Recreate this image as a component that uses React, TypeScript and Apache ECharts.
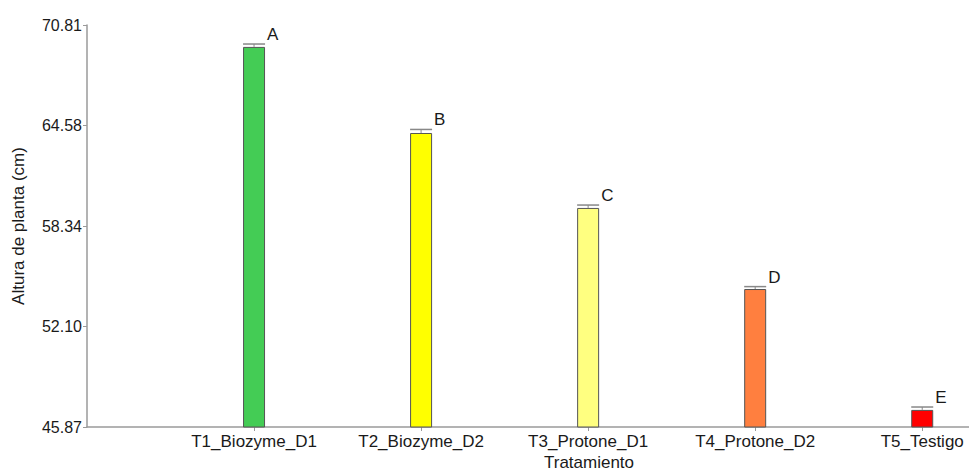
import React, { useEffect, useRef } from "react";
import * as echarts from "echarts";

const categories = ["T1_Biozyme_D1", "T2_Biozyme_D2", "T3_Protone_D1", "T4_Protone_D2", "T5_Testigo"];
const means = [69.45, 64.11, 59.46, 54.43, 46.93];
const errors = [0.18, 0.22, 0.18, 0.15, 0.18];
const letters = ["A", "B", "C", "D", "E"];
const colors = ["#44cc55", "#ffff00", "#ffff80", "#ff7f3f", "#ff0000"];
const yTickValues = [45.87, 52.105, 58.34, 64.575, 70.81];
const yTickLabels = ["45.87", "52.10", "58.34", "64.58", "70.81"];

const FONT = "Liberation Sans, Arial, sans-serif";
const TEXT = "#1a1a1a";

export default function App() {
  const ref = useRef<HTMLDivElement>(null);
  useEffect(() => {
    if (!ref.current) return;
    const chart = echarts.init(ref.current, null, { renderer: "svg" });
    const axisColor = "#9a9a9a";
    chart.setOption({
      animation: false,
      grid: { left: 87, right: 0, top: 25, bottom: 45 },
      xAxis: {
        type: "value",
        min: 0,
        max: 5.28,
        interval: 1,
        splitLine: { show: false },
        axisLine: { show: true, lineStyle: { color: axisColor, width: 1.5 } },
        axisTick: { show: true, length: 4, lineStyle: { color: axisColor }, customValues: [1, 2, 3, 4, 5] },
        axisLabel: {
          customValues: [1, 2, 3, 4, 5],
          formatter: (v: number) => categories[Math.round(v) - 1] ?? "",
          color: TEXT,
          fontSize: 17,
          fontFamily: FONT,
          margin: 6,
        },
      },
      yAxis: {
        type: "value",
        min: 45.87,
        max: 70.81,
        name: "Altura de planta (cm)",
        nameLocation: "middle",
        nameGap: 60,
        nameTextStyle: { fontSize: 17, fontFamily: FONT, color: TEXT },
        splitLine: { show: false },
        axisLine: { show: true, lineStyle: { color: axisColor, width: 1.5 } },
        axisTick: { show: true, length: 4, customValues: yTickValues, lineStyle: { color: axisColor } },
        axisLabel: {
          customValues: yTickValues,
          formatter: (v: number) => {
            let best = 0;
            yTickValues.forEach((t, i) => {
              if (Math.abs(t - v) < Math.abs(yTickValues[best] - v)) best = i;
            });
            return yTickLabels[best];
          },
          color: TEXT,
          fontSize: 16,
          fontFamily: FONT,
          margin: 5,
        },
      },
      graphic: [
        {
          type: "text",
          x: 589,
          y: 462,
          style: {
            text: "Tratamiento",
            textAlign: "center",
            textVerticalAlign: "middle",
            fontSize: 17,
            fontFamily: FONT,
            fill: TEXT,
          },
        },
      ],
      series: [
        {
          type: "bar",
          barWidth: 22,
          data: means.map((m, i) => ({
            value: [i + 1, m],
            itemStyle: { color: colors[i], borderColor: "#555", borderWidth: 1 },
          })),
        },
        {
          type: "custom",
          data: means.map((m, i) => [i + 1, m, m + errors[i], i]),
          renderItem: (params: any, api: any) => {
            const x = api.value(0);
            const low = api.coord([x, api.value(1)]);
            const high = api.coord([x, api.value(2)]);
            const idx = api.value(3);
            const half = 11;
            return {
              type: "group",
              children: [
                {
                  type: "line",
                  shape: { x1: low[0], y1: low[1], x2: high[0], y2: high[1] },
                  style: { stroke: "#888", lineWidth: 1 },
                },
                {
                  type: "line",
                  shape: { x1: high[0] - half, y1: high[1], x2: high[0] + half, y2: high[1] },
                  style: { stroke: "#888", lineWidth: 1.5 },
                },
                {
                  type: "text",
                  x: high[0] + half + 2,
                  y: high[1] - 1,
                  style: {
                    text: letters[idx],
                    textAlign: "left",
                    textVerticalAlign: "bottom",
                    fontSize: 17,
                    fontFamily: FONT,
                    fill: TEXT,
                  },
                },
              ],
            };
          },
          z: 5,
        },
      ],
    });
    return () => chart.dispose();
  }, []);
  return <div ref={ref} style={{ width: 969, height: 472, position: "absolute", left: 0, top: 0 }} />;
}
